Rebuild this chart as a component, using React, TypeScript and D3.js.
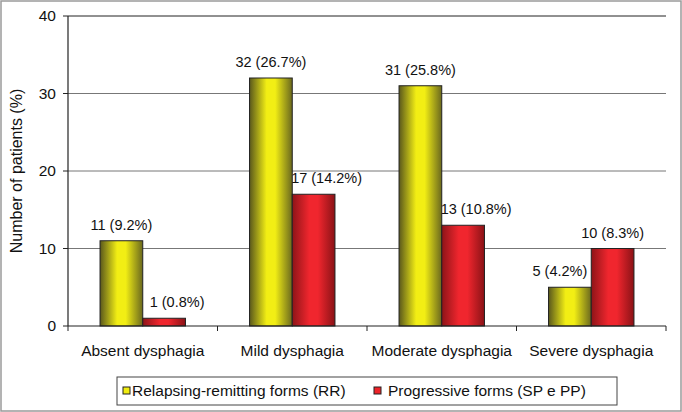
import React from "react";
import * as d3 from "d3";

const categories = ["Absent dysphagia", "Mild dysphagia", "Moderate dysphagia", "Severe dysphagia"];
const seriesNames = ["Relapsing-remitting forms (RR)", "Progressive forms (SP e PP)"];
const rrValues = [11, 32, 31, 5];
const rrLabels = ["11 (9.2%)", "32 (26.7%)", "31 (25.8%)", "5 (4.2%)"];
const ppValues = [1, 17, 13, 10];
const ppLabels = ["1 (0.8%)", "17 (14.2%)", "13 (10.8%)", "10 (8.3%)"];
const yTicks = [0, 10, 20, 30, 40];

const W = 682, H = 412;
const left = 68, right = 666, top = 16, bottom = 326;
const font = "'Liberation Sans', Arial, sans-serif";

export default function App() {
  const x0 = d3.scaleBand().domain(categories).range([left, right]).paddingInner(0).paddingOuter(0);
  const x1 = d3.scaleBand().domain(["rr", "pp"]).range([0, x0.bandwidth()]).paddingInner(0).paddingOuter(0.75);
  const y = d3.scaleLinear().domain([0, 40]).range([bottom, top]);
  const series = [
    { key: "rr", values: rrValues, other: ppValues, labels: rrLabels, fill: "url(#gy)", shift: -10 },
    { key: "pp", values: ppValues, other: rrValues, labels: ppLabels, fill: "url(#gr)", shift: 13 },
  ];
  const boundaries = [...categories.map((c) => x0(c)!), right];
  return (
    <svg width={W} height={H} style={{ position: "absolute", left: 0, top: 0, display: "block" }}>
      <defs>
        <linearGradient id="gy" x1="0" x2="1" y1="0" y2="0">
          <stop offset="0" stopColor="#5a581c" />
          <stop offset="0.4" stopColor="#f2ee14" />
          <stop offset="0.6" stopColor="#f2ee14" />
          <stop offset="1" stopColor="#6a681e" />
        </linearGradient>
        <linearGradient id="gr" x1="0" x2="1" y1="0" y2="0">
          <stop offset="0" stopColor="#8e1418" />
          <stop offset="0.4" stopColor="#f0262e" />
          <stop offset="0.6" stopColor="#f0262e" />
          <stop offset="1" stopColor="#8a1216" />
        </linearGradient>
      </defs>
      <rect x={0} y={0} width={W} height={H} fill="#fff" />
      <rect x={1} y={1} width={W - 2} height={H - 2} fill="none" stroke="#9a9a9a" strokeWidth={1.5} />
      {yTicks.filter((t) => t > 0).map((t) => (
        <line key={t} x1={left} x2={right} y1={y(t)} y2={y(t)} stroke={t === 40 ? "#222" : "#777"} strokeWidth={1} />
      ))}
      {yTicks.map((t) => (
        <g key={"yt" + t}>
          <line x1={left - 5} x2={left} y1={y(t)} y2={y(t)} stroke="#222" />
          <text x={left - 12} y={y(t)} dy="0.35em" textAnchor="end" fontFamily={font} fontSize={15.5} fill="#111">{t}</text>
        </g>
      ))}
      {series.map((s) =>
        categories.map((c, i) => {
          const bx = x0(c)! + x1(s.key)!;
          const by = y(s.values[i]);
          const dx = s.other[i] > s.values[i] ? s.shift : 0;
          return (
            <g key={s.key + c}>
              <rect x={bx} y={by} width={x1.bandwidth()} height={bottom - by} fill={s.fill} stroke="#222" strokeWidth={1} />
              <text x={bx + x1.bandwidth() / 2 + dx} y={by - 11} textAnchor="middle" fontFamily={font} fontSize={14.5} fill="#111">{s.labels[i]}</text>
            </g>
          );
        })
      )}
      <line x1={left} x2={left} y1={top} y2={bottom} stroke="#222" strokeWidth={1.2} />
      <line x1={left} x2={right} y1={bottom} y2={bottom} stroke="#222" strokeWidth={1.2} />
      {boundaries.map((b, i) => (
        <line key={"xt" + i} x1={b} x2={b} y1={bottom} y2={bottom + 5} stroke="#222" />
      ))}
      {categories.map((c) => (
        <text key={"xl" + c} x={x0(c)! + x0.bandwidth() / 2} y={bottom + 30} textAnchor="middle" fontFamily={font} fontSize={15.5} fill="#111">{c}</text>
      ))}
      <text transform={`translate(22,${(top + bottom) / 2}) rotate(-90)`} textAnchor="middle" fontFamily={font} fontSize={16} fill="#111">Number of patients (%)</text>
      <rect x={117} y={377} width={500} height={28} fill="#fff" stroke="#444" strokeWidth={1} />
      <rect x={123} y={387} width={7} height={7} fill="#f0ec10" stroke="#222" strokeWidth={1} />
      <text x={132} y={396} fontFamily={font} fontSize={15.5} fill="#111">{seriesNames[0]}</text>
      <rect x={374} y={387} width={7} height={7} fill="#ee2228" stroke="#222" strokeWidth={1} />
      <text x={388} y={396} fontFamily={font} fontSize={15.5} fill="#111">{seriesNames[1]}</text>
    </svg>
  );
}
